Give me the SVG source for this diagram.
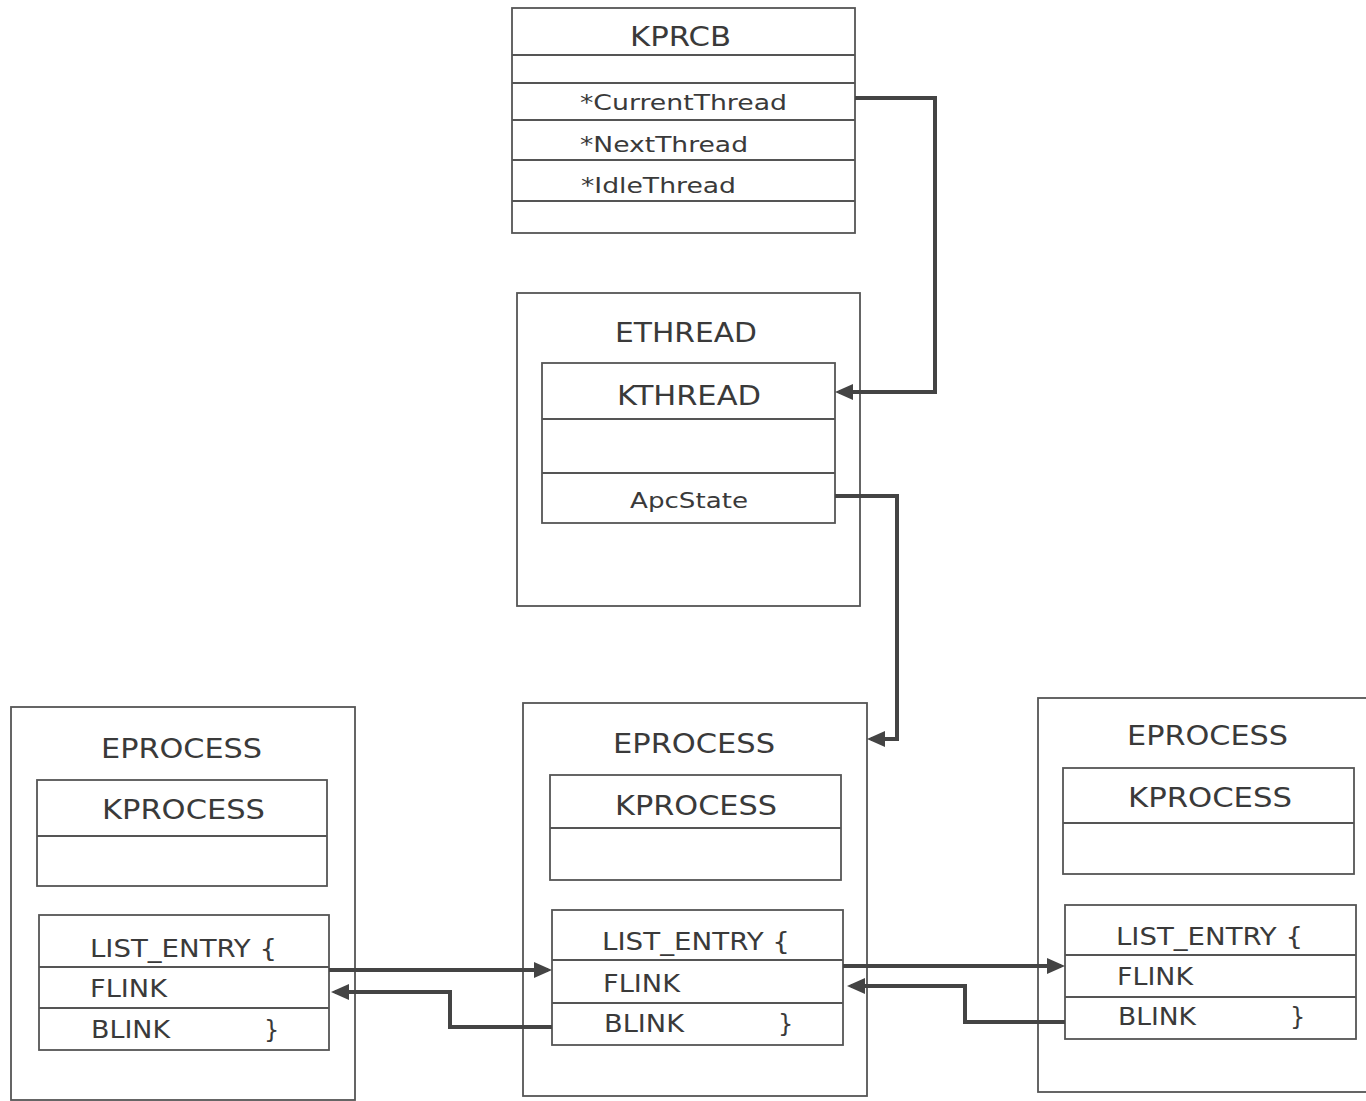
<svg xmlns="http://www.w3.org/2000/svg" width="1366" height="1101" viewBox="0 0 1366 1101">
<defs>
<style>
.box{fill:none;stroke:#555;stroke-width:1.8}
.sep{stroke:#555;stroke-width:1.8}
.t{font-family:"DejaVu Sans","Liberation Sans",sans-serif;fill:#3a3a3a}
.big{font-size:27px}
.mid{font-size:24px}
.sm{font-size:22px}
.conn{fill:none;stroke:#444;stroke-width:4}
</style>
<marker id="ah" viewBox="0 0 18 16" refX="14" refY="8" markerWidth="18" markerHeight="16" markerUnits="userSpaceOnUse" orient="auto">
<path d="M0,0 L18,8 L0,16 z" fill="#444"/>
</marker>
</defs>
<rect width="1366" height="1101" fill="#fff"/>

<g id="kprcb">
<rect class="box" x="512" y="8" width="343" height="225"/>
<line class="sep" x1="512" y1="55" x2="855" y2="55"/>
<line class="sep" x1="512" y1="83" x2="855" y2="83"/>
<line class="sep" x1="512" y1="120" x2="855" y2="120"/>
<line class="sep" x1="512" y1="160" x2="855" y2="160"/>
<line class="sep" x1="512" y1="201" x2="855" y2="201"/>
<text class="t big" x="630" y="46" textLength="101" lengthAdjust="spacingAndGlyphs">KPRCB</text>
<text class="t sm" x="580" y="110" textLength="207" lengthAdjust="spacingAndGlyphs">*CurrentThread</text>
<text class="t sm" x="580" y="152" textLength="168" lengthAdjust="spacingAndGlyphs">*NextThread</text>
<text class="t sm" x="581" y="193" textLength="155" lengthAdjust="spacingAndGlyphs">*IdleThread</text>
</g>

<g id="ethread">
<rect class="box" x="517" y="293" width="343" height="313"/>
<text class="t big" x="615" y="342" textLength="142" lengthAdjust="spacingAndGlyphs">ETHREAD</text>
<g id="kthread">
<rect class="box" x="542" y="363" width="293" height="160"/>
<line class="sep" x1="542" y1="419" x2="835" y2="419"/>
<line class="sep" x1="542" y1="473" x2="835" y2="473"/>
<text class="t big" x="617" y="405" textLength="144" lengthAdjust="spacingAndGlyphs">KTHREAD</text>
<text class="t sm" x="630" y="508" textLength="118" lengthAdjust="spacingAndGlyphs">ApcState</text>
</g>
</g>

<g id="eprocess-left">
<rect class="box" x="11" y="707" width="344" height="393"/>
<text class="t big" x="101" y="758" textLength="161" lengthAdjust="spacingAndGlyphs">EPROCESS</text>
<g id="kprocess-left">
<rect class="box" x="37" y="780" width="290" height="106"/>
<line class="sep" x1="37" y1="836" x2="327" y2="836"/>
<text class="t big" x="102" y="819" textLength="163" lengthAdjust="spacingAndGlyphs">KPROCESS</text>
</g>
<g id="list-entry-left">
<rect class="box" x="39" y="915" width="290" height="135"/>
<line class="sep" x1="39" y1="967" x2="329" y2="967"/>
<line class="sep" x1="39" y1="1008" x2="329" y2="1008"/>
<text class="t mid" x="90" y="957" textLength="187" lengthAdjust="spacingAndGlyphs">LIST_ENTRY {</text>
<text class="t mid" x="90" y="997" textLength="77" lengthAdjust="spacingAndGlyphs">FLINK</text>
<text class="t mid" x="91" y="1038" textLength="79" lengthAdjust="spacingAndGlyphs">BLINK</text>
<text class="t mid" x="264" y="1038">}</text>
</g>
</g>

<g id="eprocess-middle">
<rect class="box" x="523" y="703" width="344" height="393"/>
<text class="t big" x="613" y="753" textLength="162" lengthAdjust="spacingAndGlyphs">EPROCESS</text>
<g id="kprocess-middle">
<rect class="box" x="550" y="775" width="291" height="105"/>
<line class="sep" x1="550" y1="828" x2="841" y2="828"/>
<text class="t big" x="615" y="815" textLength="162" lengthAdjust="spacingAndGlyphs">KPROCESS</text>
</g>
<g id="list-entry-middle">
<rect class="box" x="552" y="910" width="291" height="135"/>
<line class="sep" x1="552" y1="960" x2="843" y2="960"/>
<line class="sep" x1="552" y1="1003" x2="843" y2="1003"/>
<text class="t mid" x="602" y="950" textLength="188" lengthAdjust="spacingAndGlyphs">LIST_ENTRY {</text>
<text class="t mid" x="603" y="992" textLength="77" lengthAdjust="spacingAndGlyphs">FLINK</text>
<text class="t mid" x="604" y="1032" textLength="80" lengthAdjust="spacingAndGlyphs">BLINK</text>
<text class="t mid" x="778" y="1032">}</text>
</g>
</g>

<g id="eprocess-right">
<rect class="box" x="1038" y="698" width="340" height="394"/>
<text class="t big" x="1127" y="745" textLength="161" lengthAdjust="spacingAndGlyphs">EPROCESS</text>
<g id="kprocess-right">
<rect class="box" x="1063" y="768" width="291" height="106"/>
<line class="sep" x1="1063" y1="823" x2="1354" y2="823"/>
<text class="t big" x="1128" y="807" textLength="164" lengthAdjust="spacingAndGlyphs">KPROCESS</text>
</g>
<g id="list-entry-right">
<rect class="box" x="1065" y="905" width="291" height="134"/>
<line class="sep" x1="1065" y1="955" x2="1356" y2="955"/>
<line class="sep" x1="1065" y1="997" x2="1356" y2="997"/>
<text class="t mid" x="1116" y="945" textLength="187" lengthAdjust="spacingAndGlyphs">LIST_ENTRY {</text>
<text class="t mid" x="1117" y="985" textLength="76" lengthAdjust="spacingAndGlyphs">FLINK</text>
<text class="t mid" x="1118" y="1025" textLength="78" lengthAdjust="spacingAndGlyphs">BLINK</text>
<text class="t mid" x="1290" y="1025">}</text>
</g>
</g>

<g id="connectors">
<path class="conn" d="M855,98 H935 V392 H839" marker-end="url(#ah)"/>
<path class="conn" d="M835,496 H897 V739 H871" marker-end="url(#ah)"/>
<path class="conn" d="M329,970 H548" marker-end="url(#ah)"/>
<path class="conn" d="M552,1027 H450 V992 H335" marker-end="url(#ah)"/>
<path class="conn" d="M843,966 H1061" marker-end="url(#ah)"/>
<path class="conn" d="M1065,1022 H965 V986 H851" marker-end="url(#ah)"/>
</g>
</svg>
